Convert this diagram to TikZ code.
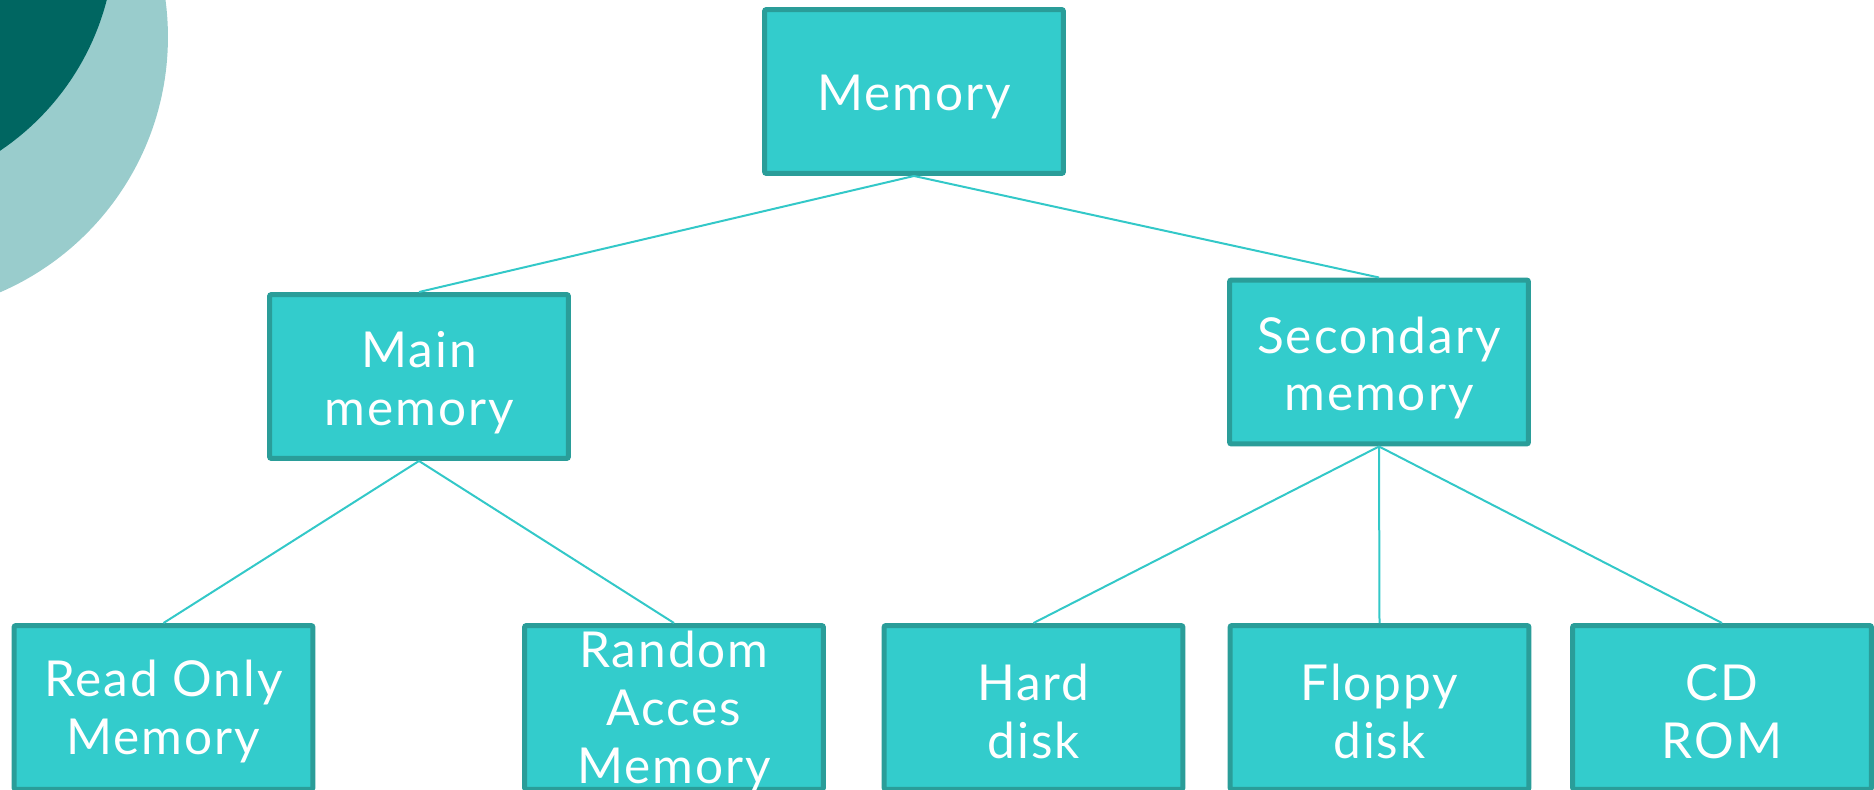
\documentclass[tikz,border=0pt]{standalone}
\usepackage{fontspec}
\setmainfont[LetterSpace=4]{Lato}
\definecolor{boxfill}{RGB}{51,204,204}
\definecolor{boxline}{RGB}{42,157,153}
\definecolor{connline}{RGB}{51,200,200}
\definecolor{darkteal}{RGB}{0,102,97}
\definecolor{lightteal}{RGB}{153,204,204}
\begin{document}
\begin{tikzpicture}[x=0.02cm,y=-0.02cm,
  membox/.style={rectangle, draw=boxline, fill=boxfill, line width=0.1cm,
    rounded corners=0.04cm, minimum width=5.98cm, minimum height=3.28cm, inner sep=0pt},
  memtxt/.style={text=white, align=center, font=\fontsize{28.2}{33}\selectfont, inner sep=0pt},
  connector/.style={draw=connline, line width=0.04cm}]
\useasboundingbox (0,0) rectangle (1874,790);
\begin{scope}
\clip (0,0) rectangle (1874,790);
\fill[lightteal] (-110,37) circle[radius=5.56cm];
\fill[darkteal] (-145,-65) circle[radius=5.2cm];

\node[membox] (mem) at (914,91.5) {};
\node[membox] (main) at (419,376.5) {};
\node[membox] (sec) at (1379,362) {};
\node[membox] (rom) at (163.5,707.5) {};
\node[membox] (ram) at (674,707.5) {};
\node[membox] (hd) at (1033.5,707.5) {};
\node[membox] (fd) at (1379.5,707.5) {};
\node[membox] (cd) at (1722,707.5) {};

\node[memtxt] at ([yshift=-0.12cm]mem.center) {Memory};
\node[memtxt] at ([yshift=-0.12cm]main.center) {Main\\memory};
\node[memtxt] at ([yshift=-0.12cm]sec.center) {Secondary\\memory};
\node[memtxt] at ([yshift=-0.08cm]rom.center) {Read Only\\Memory};
\node[memtxt] at ([yshift=-0.08cm]ram.center) {Random\\Acces\\Memory};
\node[memtxt] at ([yshift=-0.08cm]hd.center) {Hard\\disk};
\node[memtxt] at ([yshift=-0.08cm]fd.center) {Floppy\\disk};
\node[memtxt] at ([yshift=-0.08cm]cd.center) {CD\\ROM};

\draw[connector] (mem.south) -- (main.north);
\draw[connector] (mem.south) -- (sec.north);
\draw[connector] (main.south) -- (rom.north);
\draw[connector] (main.south) -- (ram.north);
\draw[connector] (sec.south) -- (hd.north);
\draw[connector] (sec.south) -- (fd.north);
\draw[connector] (sec.south) -- (cd.north);
\end{scope}
\end{tikzpicture}
\end{document}
